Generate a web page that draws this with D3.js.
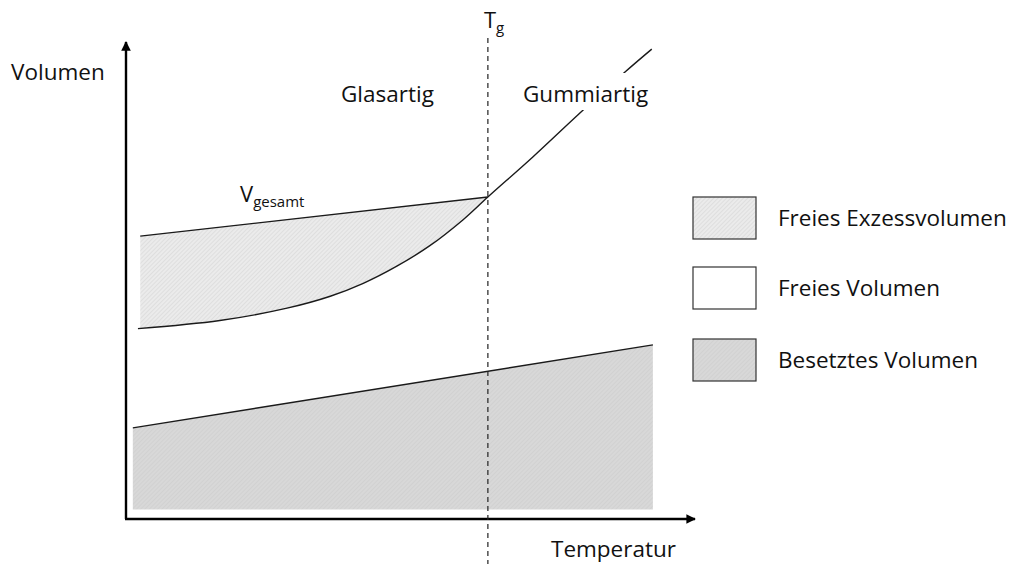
<!DOCTYPE html>
<html>
<head>
<meta charset="utf-8">
<script src="https://cdn.jsdelivr.net/npm/d3@7"></script>
<style>
  body { margin: 0; background: #fff; }
  svg { font-family: "Open Sans", sans-serif; }
</style>
</head>
<body>
<div id="chart"></div>
<script>
// values (arbitrary units, temperature 0..100, volume 0..100)
const tempEq = [2.1, 16.5, 28.3, 35.9, 41.7, 47.6, 53.4, 59.2, 63.6, 71.5, 79.4, 87.7, 92.4]
const volEq = [39.9, 41.6, 44.2, 46.7, 49.4, 53.0, 57.3, 62.7, 67.5, 75.9, 84.7, 93.7, 98.5]
const tempGlass = [2.5, 63.6]
const volGlass = [59.3, 67.5]
const tempOcc = [1.2, 92.6]
const volOcc = [19.1, 36.5]
const occBase = 2
const tg = 63.6
const legendLabels = ['Freies Exzessvolumen', 'Freies Volumen', 'Besetztes Volumen']

const width = 1013
const height = 564
const fs = 22.5

const svg = d3.select('#chart').append('svg')
  .attr('width', width)
  .attr('height', height)

const x = d3.scaleLinear().domain([0, 100]).range([126, 695])
const y = d3.scaleLinear().domain([0, 100]).range([519, 42])

const eq = tempEq.map((t, i) => ({ t, v: volEq[i] }))
const glass = tempGlass.map((t, i) => ({ t, v: volGlass[i] }))
const occ = tempOcc.map((t, i) => ({ t, v: volOcc[i] }))

const smooth = d3.curveCatmullRom.alpha(0.5)
const defs = svg.append('defs')

// fine hatch for the excess volume
const p1 = defs.append('pattern').attr('id', 'hatchLight')
  .attr('width', 3).attr('height', 3)
  .attr('patternUnits', 'userSpaceOnUse')
  .attr('patternTransform', 'rotate(45)')
p1.append('rect').attr('width', 3).attr('height', 3).attr('fill', '#ebebeb')
p1.append('line').attr('x1', 0).attr('y1', 0).attr('x2', 0).attr('y2', 3)
  .attr('stroke', '#d2d2d2').attr('stroke-width', 1)

// darker grey for occupied volume
const p2 = defs.append('pattern').attr('id', 'hatchDark')
  .attr('width', 3).attr('height', 3)
  .attr('patternUnits', 'userSpaceOnUse')
  .attr('patternTransform', 'rotate(45)')
p2.append('rect').attr('width', 3).attr('height', 3).attr('fill', '#d8d8d8')
p2.append('line').attr('x1', 0).attr('y1', 0).attr('x2', 0).attr('y2', 3)
  .attr('stroke', '#cbcbcb').attr('stroke-width', 1)

// clip: everything above the equilibrium curve
defs.append('clipPath').attr('id', 'aboveCurve')
  .append('path')
  .attr('d', d3.area()
    .x(d => x(d.t))
    .y0(0)
    .y1(d => y(d.v))
    .curve(smooth)(eq))

// excess volume area (under glass line, above the curve)
svg.append('path')
  .attr('d', d3.area().x(d => x(d.t)).y0(y(0)).y1(d => y(d.v))(glass))
  .attr('fill', 'url(#hatchLight)')
  .attr('clip-path', 'url(#aboveCurve)')

// occupied volume
svg.append('path')
  .attr('d', d3.area().x(d => x(d.t)).y0(y(occBase)).y1(d => y(d.v))(occ))
  .attr('fill', 'url(#hatchDark)')

const line = d3.line().x(d => x(d.t)).y(d => y(d.v))

svg.append('path').attr('d', line(occ))
  .attr('fill', 'none').attr('stroke', '#1a1a1a').attr('stroke-width', 1.4)
svg.append('path').attr('d', line(glass))
  .attr('fill', 'none').attr('stroke', '#1a1a1a').attr('stroke-width', 1.4)
svg.append('path').attr('d', line.curve(smooth)(eq))
  .attr('fill', 'none').attr('stroke', '#1a1a1a').attr('stroke-width', 1.4)

// axes with arrows
defs.append('marker').attr('id', 'arrow')
  .attr('viewBox', '0 0 10 10').attr('refX', 9).attr('refY', 5)
  .attr('markerWidth', 4).attr('markerHeight', 4)
  .attr('markerUnits', 'strokeWidth')
  .attr('orient', 'auto')
  .append('path').attr('d', 'M0,0L10,5L0,10z').attr('fill', '#000')

svg.append('line')
  .attr('x1', x(0)).attr('y1', y(0)).attr('x2', x(0)).attr('y2', y(100))
  .attr('stroke', '#000').attr('stroke-width', 2.4).attr('marker-end', 'url(#arrow)')
svg.append('line')
  .attr('x1', x(0) - 1).attr('y1', y(0)).attr('x2', x(100)).attr('y2', y(0))
  .attr('stroke', '#000').attr('stroke-width', 2.4).attr('marker-end', 'url(#arrow)')

// Tg dashed line
svg.append('line')
  .attr('x1', x(tg)).attr('x2', x(tg)).attr('y1', 38).attr('y2', height)
  .attr('stroke', '#222').attr('stroke-width', 1.2).attr('stroke-dasharray', '5,4')

// labels
const txt = (tx, ty, s, size) => svg.append('text')
  .attr('x', tx).attr('y', ty).attr('font-size', size || fs).attr('fill', '#111').text(s)

txt(11, 80, 'Volumen')
txt(341, 102, 'Glasartig')
txt(551, 557, 'Temperatur')

const gum = txt(523, 102, 'Gummiartig')
const bb = gum.node().getBBox()
svg.insert('rect', 'text')
  .attr('x', bb.x - 10).attr('y', bb.y - 5)
  .attr('width', bb.width + 20).attr('height', bb.height + 6)
  .attr('fill', '#fff')

const tgl = txt(x(tg) - 4, 28, 'T', 22)
tgl.append('tspan').attr('font-size', 15).attr('dy', 5).text('g')

const vg = txt(240, 202, 'V', 22)
vg.append('tspan').attr('font-size', 15).attr('dy', 5).text('gesamt')

// legend
const fills = ['url(#hatchLight)', '#fff', 'url(#hatchDark)']
const legY = [197, 267, 339]
const leg = svg.selectAll('g.leg').data(legendLabels).enter().append('g')
  .attr('class', 'leg')
  .attr('transform', (d, i) => `translate(693,${legY[i]})`)
leg.append('rect').attr('width', 63).attr('height', 42)
  .attr('fill', (d, i) => fills[i]).attr('stroke', '#333').attr('stroke-width', 1.2)
leg.append('text').attr('x', 85).attr('y', 29).attr('font-size', fs).attr('fill', '#111')
  .text(d => d)
</script>
</body>
</html>
